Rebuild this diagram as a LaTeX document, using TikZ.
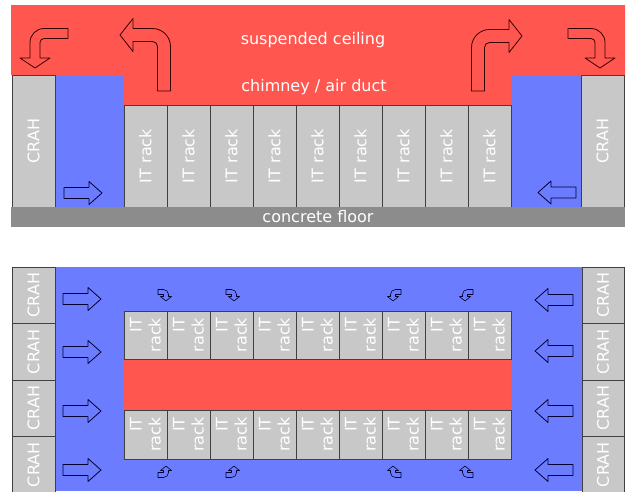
\documentclass[tikz,border=0pt]{standalone}
\usepackage{fontspec}
\setmainfont{DejaVu Sans}
\usetikzlibrary{positioning}

\definecolor{hotair}{RGB}{255,86,80}
\definecolor{coldair}{RGB}{108,124,255}
\definecolor{rackgray}{RGB}{200,200,200}
\definecolor{floorgray}{RGB}{140,140,140}

% bent arrow, tip at origin, head pointing down, tail to the right
% #1 options, #2 bend distance, #3 tail length, #4 half shaft, #5 half head, #6 head length, #7 outer radius
\newcommand{\bentarrow}[7]{%
  \begin{scope}[#1]
    \draw (#3,-#2-#4) -- ({-#4+#7},-#2-#4)
      arc[start angle=-90, end angle=-180, radius=#7]
      -- (-#4,-#6) -- (-#5,-#6) -- (0,0) -- (#5,-#6) -- (#4,-#6)
      -- (#4,{-#2-#4+#7})
      arc[start angle=180, end angle=270, radius={#7-2*#4}]
      -- (#3,-#2+#4) -- cycle;
  \end{scope}}

% straight arrow, tail at origin, pointing right
\newcommand{\flowarrow}[1]{%
  \begin{scope}[#1]
    \draw[coldarrow] (0,-5.5) -- (25,-5.5) -- (25,-11.5) -- (38,0) -- (25,11.5) -- (25,5.5) -- (0,5.5) -- cycle;
  \end{scope}}

\tikzset{
  every node/.style={font=\fontsize{16}{19}\selectfont},
  rack/.style={draw=black!75, fill=rackgray, text=white, rotate=90, inner sep=0pt, align=center},
  planrack/.style={rack, align=right},
  crah/.style={rack},
  hotarrow/.style={draw=black!80!red, fill=hotair, line width=0.8pt, line join=round},
  coldarrow/.style={draw=black!80!blue, fill=coldair, line width=0.8pt, line join=round},
  aislelabel/.style={text=white}
}

\begin{document}
\begin{tikzpicture}[x=1pt,y=-1pt]
\useasboundingbox (0,0) rectangle (626,491);

% side view
\fill[hotair] (11,5) -- (625,5) -- (625,75) -- (511,75) -- (511,105) -- (124,105) -- (124,75) -- (11,75) -- cycle;
\fill[coldair] (55,75) rectangle (124,207);
\fill[coldair] (511,75) rectangle (581,207);
\node[aislelabel] (ceiling) at (313,40) {suspended ceiling};
\node[aislelabel] (chimney) at (314,87) {chimney / air duct};
\node[crah, minimum width=132pt, minimum height=43pt] (crahL) at (33.5,141) {CRAH};
\node[crah, minimum width=132pt, minimum height=43pt] (crahR) at (602.5,141) {CRAH};
\foreach \i in {1,...,9}
  \node[rack, minimum width=102pt, minimum height=43pt] (side\i) at ({145.5+43*(\i-1)},156) {IT rack};
\node[fill=floorgray, text=white, minimum width=614pt, minimum height=20pt, inner sep=0pt] (floor) at (318,217) {concrete floor};

\bentarrow{shift={(35,68)}, hotarrow}{34.5}{33}{5}{15}{10}{14}
\bentarrow{shift={(600,68)}, xscale=-1, hotarrow}{34.5}{32}{5}{15}{10}{14}
\bentarrow{shift={(120,35)}, rotate=-90, hotarrow}{44}{56}{6.5}{16.5}{13}{18}
\bentarrow{shift={(522,36)}, xscale=-1, rotate=-90, hotarrow}{44}{55}{6.5}{16.5}{13}{18}
\flowarrow{shift={(64,193)}}
\flowarrow{shift={(576,192.5)}, xscale=-1}

% top view
\fill[coldair] (55,267) rectangle (582,491);
\fill[hotair] (124,359) rectangle (511,410);
\foreach \i/\y in {1/295.25,2/351.75,3/408.25,4/464.75} {
  \node[crah, minimum width=56.5pt, minimum height=43pt] (planL\i) at (33.5,\y) {CRAH};
  \node[crah, minimum width=56.5pt, minimum height=42pt] (planR\i) at (603,\y) {CRAH};
}
\foreach \i in {1,...,9} {
  \node[planrack, minimum width=48pt, minimum height=43pt] (hot\i) at ({145.5+43*(\i-1)},335) {IT\\rack};
  \node[planrack, minimum width=49pt, minimum height=43pt] (cold\i) at ({145.5+43*(\i-1)},434.5) {IT\\rack};
}
\foreach \y in {299,352,411,470} {
  \flowarrow{shift={(63,\y)}}
}
\foreach \y in {300,351,411,470} {
  \flowarrow{shift={(573,\y)}, xscale=-1}
}

\bentarrow{shift={(166,301)}, xscale=-1, coldarrow, line width=0.6pt}{9}{8}{2.5}{5.5}{4.5}{5}
\bentarrow{shift={(234,301)}, xscale=-1, coldarrow, line width=0.6pt}{9}{8}{2.5}{5.5}{4.5}{5}
\bentarrow{shift={(393,301)}, coldarrow, line width=0.6pt}{9}{8}{2.5}{5.5}{4.5}{5}
\bentarrow{shift={(465,301)}, coldarrow, line width=0.6pt}{9}{8}{2.5}{5.5}{4.5}{5}
\bentarrow{shift={(166,466)}, xscale=-1, yscale=-1, coldarrow, line width=0.6pt}{9}{8}{2.5}{5.5}{4.5}{5}
\bentarrow{shift={(234,466)}, xscale=-1, yscale=-1, coldarrow, line width=0.6pt}{9}{8}{2.5}{5.5}{4.5}{5}
\bentarrow{shift={(393,466)}, yscale=-1, coldarrow, line width=0.6pt}{9}{8}{2.5}{5.5}{4.5}{5}
\bentarrow{shift={(465,466)}, yscale=-1, coldarrow, line width=0.6pt}{9}{8}{2.5}{5.5}{4.5}{5}
\end{tikzpicture}
\end{document}
